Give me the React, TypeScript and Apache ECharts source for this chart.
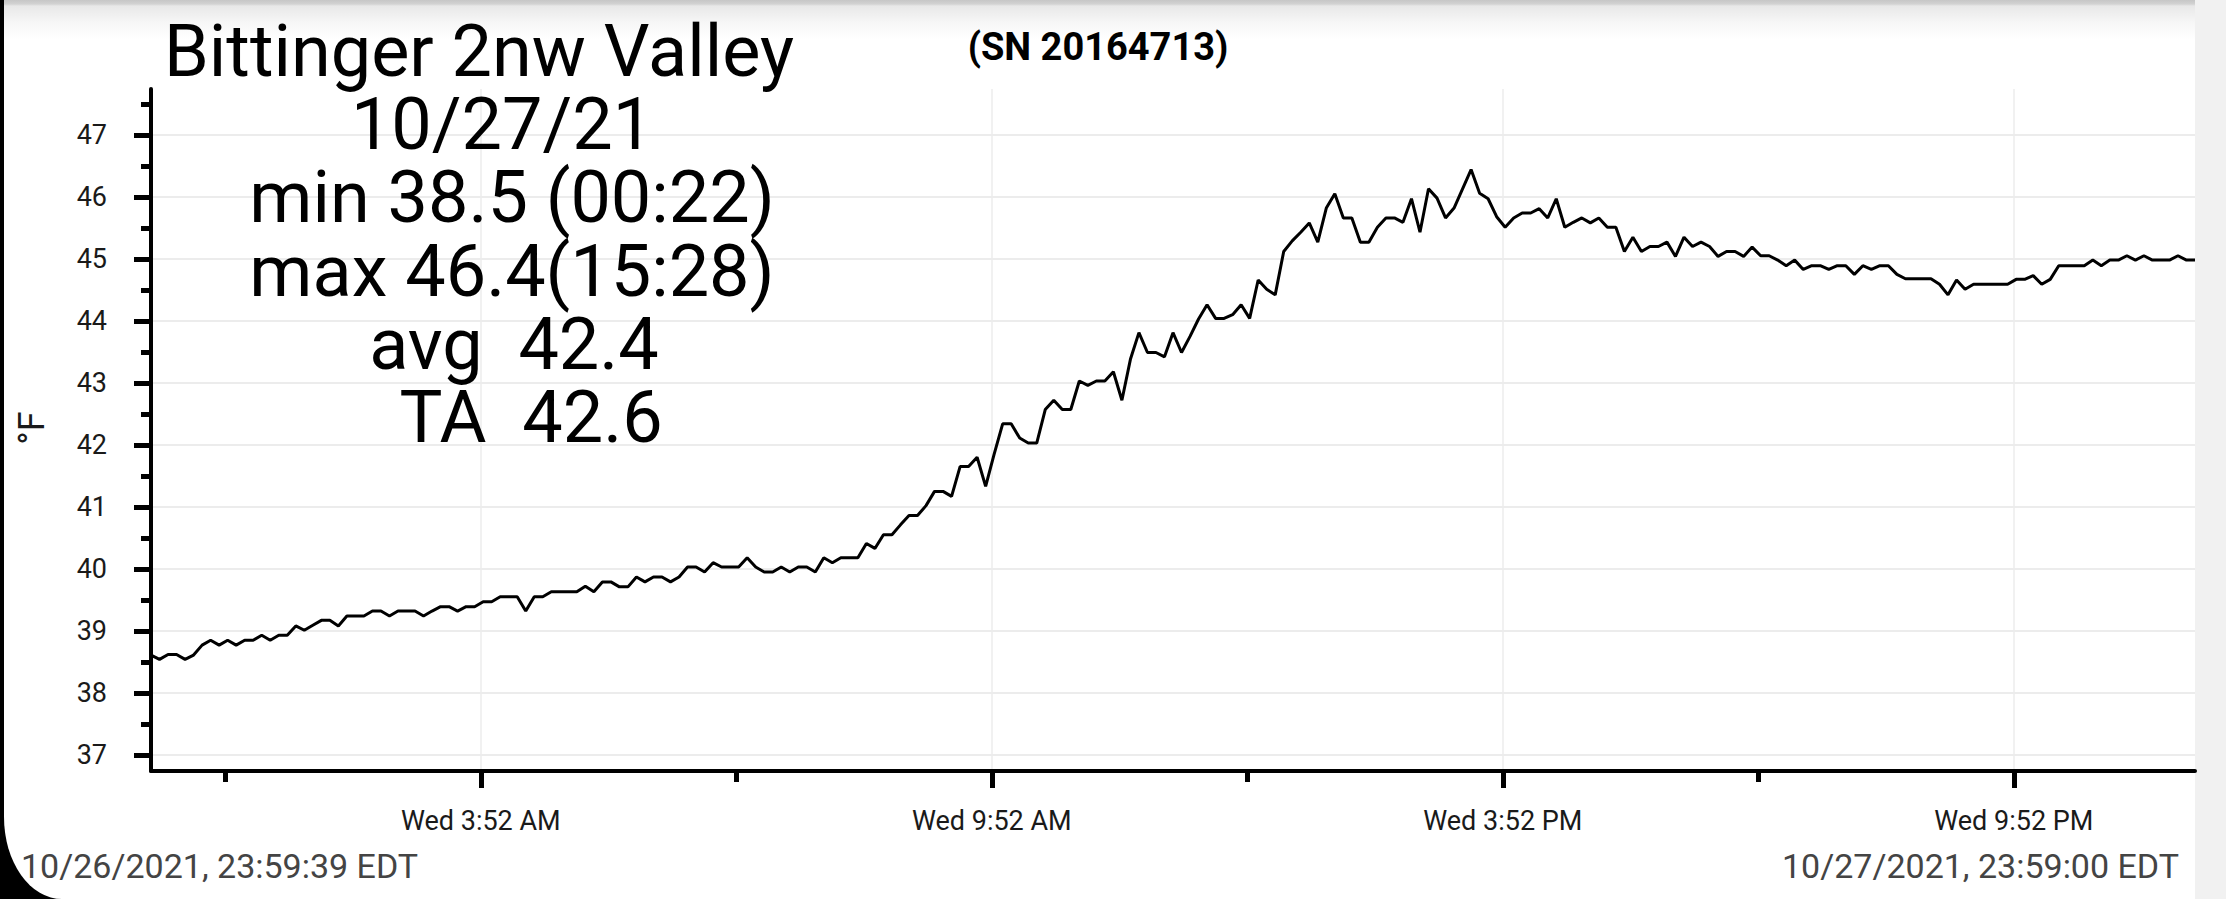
import React, { useEffect, useRef } from "react";
import * as echarts from "echarts";

const STATION = "Bittinger 2nw Valley";
const SERIAL = "(SN 20164713)";
const SUMMARY_LINES = ["10/27/21", "min 38.5 (00:22)", "max 46.4(15:28)", "avg  42.4", "TA  42.6"];
const START_LABEL = "10/26/2021, 23:59:39 EDT";
const END_LABEL = "10/27/2021, 23:59:00 EDT";
const Y_UNIT = "°F";

// sample times: minutes from 10/27/2021 00:00 (first sample 23:59:39 the day before), every 6 minutes
const START_MIN = -0.35;
const STEP_MIN = 6;
const TEMPS = [
  38.61, 38.54, 38.62, 38.62, 38.54, 38.61, 38.77, 38.85, 38.77, 38.85,
  38.77, 38.85, 38.85, 38.93, 38.85, 38.93, 38.93, 39.08, 39.01, 39.09,
  39.17, 39.17, 39.08, 39.24, 39.24, 39.24, 39.32, 39.32, 39.24, 39.32,
  39.32, 39.32, 39.24, 39.32, 39.39, 39.39, 39.32, 39.39, 39.39, 39.47,
  39.47, 39.55, 39.55, 39.55, 39.32, 39.55, 39.55, 39.63, 39.63, 39.63,
  39.63, 39.72, 39.63, 39.79, 39.79, 39.71, 39.71, 39.87, 39.79, 39.87,
  39.87, 39.79, 39.87, 40.03, 40.03, 39.95, 40.10, 40.03, 40.03, 40.03,
  40.18, 40.03, 39.95, 39.95, 40.03, 39.95, 40.03, 40.03, 39.95, 40.18,
  40.10, 40.18, 40.18, 40.18, 40.41, 40.33, 40.55, 40.55, 40.71, 40.86,
  40.86, 41.02, 41.25, 41.25, 41.17, 41.65, 41.65, 41.80, 41.33, 41.85,
  42.34, 42.34, 42.11, 42.03, 42.03, 42.57, 42.72, 42.57, 42.57, 43.03,
  42.96, 43.03, 43.03, 43.18, 42.72, 43.38, 43.81, 43.49, 43.49, 43.42,
  43.81, 43.49, 43.75, 44.03, 44.26, 44.04, 44.04, 44.10, 44.26, 44.04,
  44.66, 44.51, 44.42, 45.12, 45.29, 45.43, 45.58, 45.27, 45.82, 46.05,
  45.66, 45.66, 45.27, 45.27, 45.51, 45.66, 45.66, 45.59, 45.97, 45.43,
  46.13, 45.98, 45.66, 45.82, 46.13, 46.44, 46.06, 45.97, 45.68, 45.51,
  45.66, 45.74, 45.74, 45.81, 45.66, 45.97, 45.51, 45.59, 45.66, 45.58,
  45.66, 45.51, 45.51, 45.12, 45.35, 45.12, 45.20, 45.20, 45.27, 45.04,
  45.35, 45.20, 45.27, 45.20, 45.04, 45.12, 45.12, 45.04, 45.19, 45.05,
  45.05, 44.98, 44.89, 44.98, 44.83, 44.89, 44.89, 44.83, 44.89, 44.89,
  44.75, 44.89, 44.83, 44.89, 44.89, 44.75, 44.68, 44.68, 44.68, 44.68,
  44.59, 44.42, 44.66, 44.51, 44.59, 44.59, 44.59, 44.59, 44.59, 44.67,
  44.67, 44.73, 44.59, 44.67, 44.89, 44.89, 44.89, 44.89, 44.98, 44.89,
  44.98, 44.98, 45.05, 44.98, 45.05, 44.98, 44.98, 44.98, 45.05, 44.98,
  44.98,
];

const X_MAJOR = [232, 592, 952, 1312];
const X_MAJOR_LABELS = ["Wed 3:52 AM", "Wed 9:52 AM", "Wed 3:52 PM", "Wed 9:52 PM"];
const X_MINOR = [52, 412, 772, 1132];
const Y_MAJOR = [37, 38, 39, 40, 41, 42, 43, 44, 45, 46, 47];
const Y_MINOR = [37.5, 38.5, 39.5, 40.5, 41.5, 42.5, 43.5, 44.5, 45.5, 46.5, 47.5];
const Y_MIN = 36.74;
const Y_MAX = 47.74;

const FONT = "Roboto";

export default function App() {
  const ref = useRef<HTMLDivElement>(null);

  useEffect(() => {
    if (!ref.current) return;
    const chart = echarts.init(ref.current, null, { renderer: "svg" });
    const data = TEMPS.map((v, i) => [START_MIN + i * STEP_MIN, v]);
    const xMin = START_MIN;
    const xMax = START_MIN + (TEMPS.length - 1) * STEP_MIN;

    const titleLines = [STATION, ...SUMMARY_LINES];
    // horizontal offsets of each line relative to the common centre (left, right padding)
    const linePads = [
      [0, 66],
      [0, 20],
      [0, 0],
      [0, 0],
      [4, 0],
      [38, 0],
    ];
    const LINE_H = 73.4;
    const rich: Record<string, any> = {};
    titleLines.forEach((_, i) => {
      rich["l" + i] = {
        fontSize: 72,
        fontFamily: FONT,
        color: "#000",
        lineHeight: LINE_H,
        padding: [0, linePads[i][1], 0, linePads[i][0]],
      };
    });
    const titleText = titleLines.map((t, i) => `{l${i}|${t}}`).join("\n");

    const tickStyle = { color: "#000", width: 5 };

    chart.setOption({
      animation: false,
      grid: [{ left: 151, right: 31, top: 89, bottom: 128 }],
      xAxis: [
        {
          type: "value",
          min: xMin,
          max: xMax,
          position: "bottom",
          axisLine: { show: true, onZero: false, lineStyle: { color: "#000", width: 4 } },
          axisTick: { show: true, customValues: X_MAJOR, length: 17, lineStyle: tickStyle },
          axisLabel: {
            customValues: X_MAJOR,
            margin: 36,
            fontSize: 27,
            fontFamily: FONT,
            color: "#1a1a1a",
            formatter: (v: number) => {
              const k = X_MAJOR.findIndex((t) => Math.abs(t - v) < 0.01);
              return k >= 0 ? X_MAJOR_LABELS[k] : "";
            },
          },
          splitLine: { show: true, lineStyle: { color: "#ececec", width: 1.5 } },
        },
        {
          type: "value",
          min: xMin,
          max: xMax,
          position: "bottom",
          axisLine: { show: false, onZero: false },
          axisTick: { show: true, customValues: X_MINOR, length: 11, lineStyle: tickStyle },
          axisLabel: { show: false },
          splitLine: { show: false },
        },
      ],
      yAxis: [
        {
          type: "value",
          min: Y_MIN,
          max: Y_MAX,
          position: "left",
          axisLine: { show: true, onZero: false, lineStyle: { color: "#000", width: 4 } },
          axisTick: { show: true, customValues: Y_MAJOR, length: 17, lineStyle: tickStyle },
          axisLabel: {
            customValues: Y_MAJOR,
            margin: 44,
            fontSize: 27,
            fontFamily: FONT,
            color: "#1a1a1a",
          },
          splitLine: { show: true, lineStyle: { color: "#e6e6e6", width: 1.5 } },
        },
        {
          type: "value",
          min: Y_MIN,
          max: Y_MAX,
          position: "left",
          axisLine: { show: false, onZero: false },
          axisTick: { show: true, customValues: Y_MINOR, length: 10, lineStyle: tickStyle },
          axisLabel: { show: false },
          splitLine: { show: false },
        },
      ],
      series: [
        {
          type: "line",
          xAxisIndex: 0,
          yAxisIndex: 0,
          data,
          symbol: "none",
          showSymbol: false,
          silent: true,
          z: 5,
          lineStyle: { color: "#000", width: 3 },
        },
      ],
      graphic: [
        {
          type: "text",
          x: 512,
          y: 51 - LINE_H / 2,
          silent: true,
          z: 10,
          style: {
            text: titleText,
            rich,
            fontSize: 72,
            fontFamily: FONT,
            fill: "#000",
            align: "center",
            verticalAlign: "top",
            lineHeight: LINE_H,
          },
        },
        {
          type: "text",
          x: 1098,
          y: 47,
          silent: true,
          style: {
            text: SERIAL,
            fontSize: 38,
            fontWeight: "bold",
            fontFamily: FONT,
            fill: "#000",
            align: "center",
            verticalAlign: "middle",
          },
        },
        {
          type: "text",
          x: 32,
          y: 428,
          rotation: Math.PI / 2,
          silent: true,
          style: {
            text: Y_UNIT,
            fontSize: 36,
            fontFamily: FONT,
            fill: "#1a1a1a",
            align: "center",
            verticalAlign: "middle",
          },
        },
        {
          type: "text",
          x: 21,
          y: 866,
          silent: true,
          style: {
            text: START_LABEL,
            fontSize: 34,
            fontFamily: FONT,
            fill: "#444",
            align: "left",
            verticalAlign: "middle",
          },
        },
        {
          type: "text",
          x: 2179,
          y: 866,
          silent: true,
          style: {
            text: END_LABEL,
            fontSize: 34,
            fontFamily: FONT,
            fill: "#444",
            align: "right",
            verticalAlign: "middle",
          },
        },
      ],
    });
    return () => chart.dispose();
  }, []);

  return (
    <div style={{ position: "fixed", left: 0, top: 0, width: 2226, height: 899, background: "#000", overflow: "hidden" }}>
      <div
        style={{
          position: "absolute",
          left: 4,
          top: 0,
          width: 2222,
          height: 899,
          background: "#fff",
          borderBottomLeftRadius: "58px 82px",
        }}
      />
      <div
        style={{
          position: "absolute",
          left: 4,
          top: 0,
          width: 2191,
          height: 42,
          background: "linear-gradient(to bottom, #c6c6c6 0px, #d2d2d2 4px, #e8e8e8 6px, #f6f6f6 22px, #ffffff 40px)",
        }}
      />
      <div style={{ position: "absolute", left: 2195, top: 0, width: 31, height: 899, background: "#f1f1f1" }} />
      <div ref={ref} style={{ position: "absolute", left: 0, top: 0, width: 2226, height: 899 }} />
    </div>
  );
}
